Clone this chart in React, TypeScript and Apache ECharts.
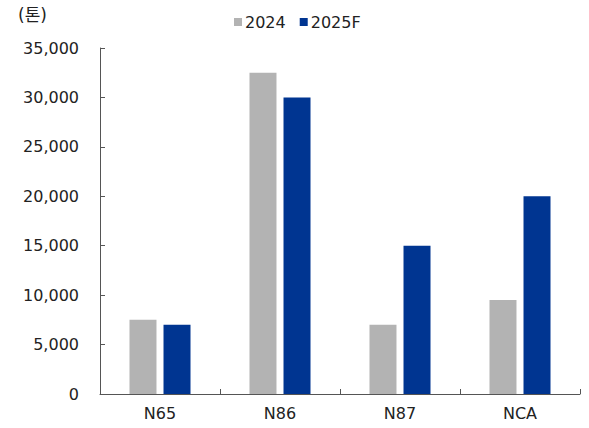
import React, { useEffect, useRef } from "react";
import * as echarts from "echarts";

const categories = ["N65", "N86", "N87", "NCA"];
const series2024 = [7500, 32500, 7000, 9500];
const series2025F = [7000, 30000, 15000, 20000];
const seriesNames = ["2024", "2025F"];
const unitLabel = "(톤)";

const FONT = "'DejaVu Sans', 'Noto Sans CJK KR', sans-serif";

export default function App() {
  const ref = useRef<HTMLDivElement>(null);

  useEffect(() => {
    document.body.style.margin = "0";
    if (!ref.current) return;
    const chart = echarts.init(ref.current, null, { renderer: "svg" });
    chart.setOption({
      animation: false,
      backgroundColor: "#ffffff",
      textStyle: { fontFamily: FONT },
      title: {
        text: unitLabel,
        left: 13,
        top: 1,
        textStyle: { fontFamily: FONT, fontSize: 17, fontWeight: "normal", color: "#222" },
      },
      legend: {
        data: seriesNames,
        left: 229,
        top: 9,
        itemWidth: 8,
        itemHeight: 8,
        itemGap: 14,
        icon: "rect",
        textStyle: { fontFamily: FONT, fontSize: 16, color: "#222", padding: [0, 0, 0, -2] },
      },
      grid: { left: 100, right: 9, top: 48, bottom: 34, containLabel: false },
      xAxis: {
        type: "category",
        data: categories,
        axisLine: { lineStyle: { color: "#555", width: 1 } },
        axisTick: { show: true, inside: true, length: 5, lineStyle: { color: "#555" } },
        axisLabel: { fontFamily: FONT, fontSize: 16, color: "#222", margin: 11 },
      },
      yAxis: {
        type: "value",
        min: 0,
        max: 35000,
        interval: 5000,
        splitLine: { show: false },
        axisLine: { show: true, lineStyle: { color: "#555", width: 1 } },
        axisTick: { show: true, inside: true, length: 5, lineStyle: { color: "#555" } },
        axisLabel: {
          fontFamily: FONT,
          fontSize: 16,
          color: "#222",
          margin: 21,
          formatter: (v: number) => v.toLocaleString("en-US"),
        },
      },
      series: [
        {
          name: seriesNames[0],
          type: "bar",
          data: series2024,
          barWidth: 27,
          barGap: "26%",
          itemStyle: { color: "#b3b3b3" },
        },
        {
          name: seriesNames[1],
          type: "bar",
          data: series2025F,
          barWidth: 27,
          barGap: "26%",
          itemStyle: { color: "#003591" },
        },
      ],
    });
    return () => chart.dispose();
  }, []);

  return <div ref={ref} style={{ width: 589, height: 428 }} />;
}
